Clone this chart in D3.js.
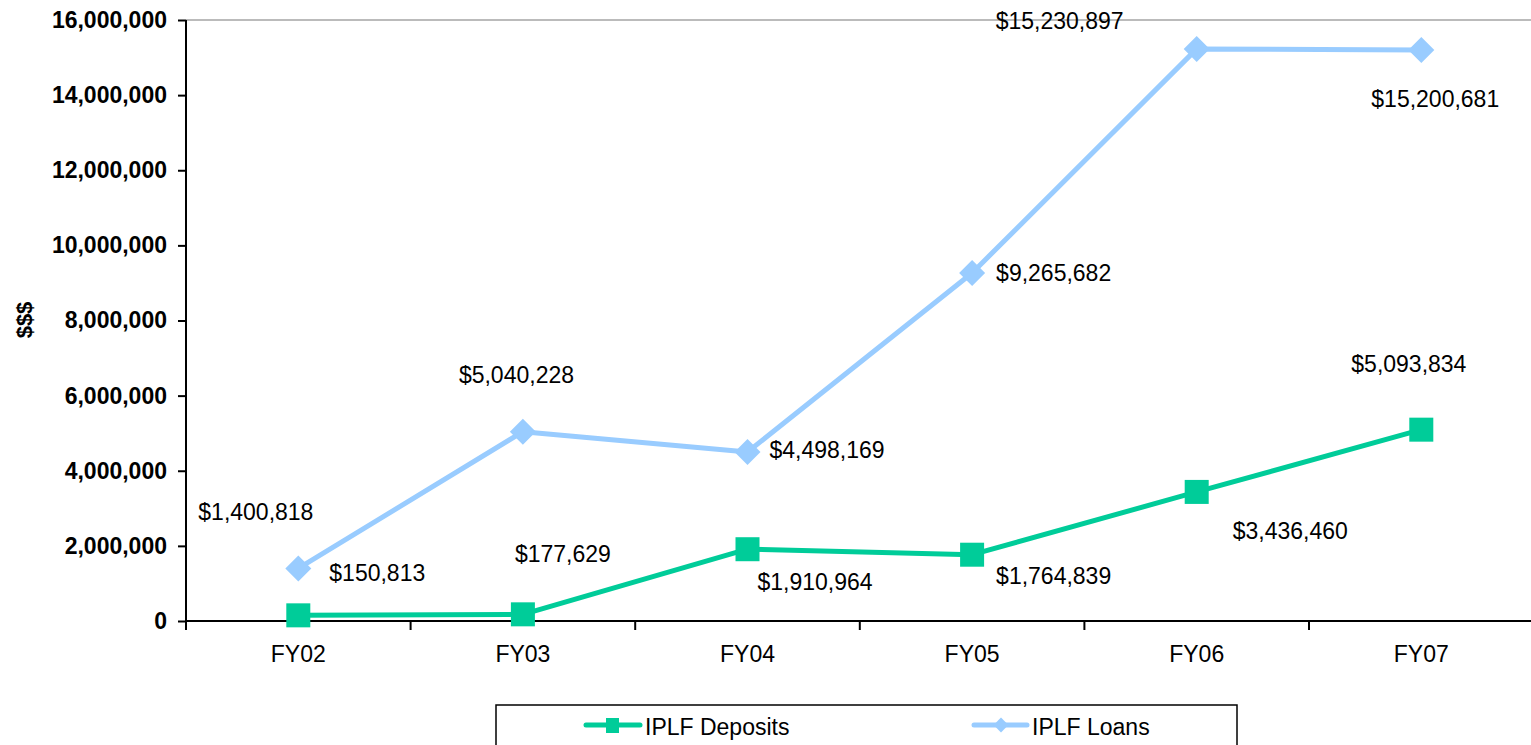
<!DOCTYPE html>
<html>
<head>
<meta charset="utf-8">
<script src="https://cdn.jsdelivr.net/npm/d3@7"></script>
<style>
  html, body { margin: 0; padding: 0; background: #fff; }
  svg { display: block; font-family: "Liberation Sans", Arial, sans-serif; }
  .ytick text { font-weight: bold; font-size: 23px; fill: #000; }
  .cat { font-size: 23px; fill: #000; }
  .val { font-size: 23px; fill: #000; }
  .legend text { font-size: 23px; fill: #000; }
</style>
</head>
<body>
<svg id="chart" width="1531" height="745"></svg>
<script>
// values
const categories = ["FY02", "FY03", "FY04", "FY05", "FY06", "FY07"];
const deposits = [150813, 177629, 1910964, 1764839, 3436460, 5093834];
const loans = [1400818, 5040228, 4498169, 9265682, 15230897, 15200681];
const yTicks = [0, 2000000, 4000000, 6000000, 8000000, 10000000, 12000000, 14000000, 16000000];

// where each data label sits relative to its marker (start x, baseline)
const depositLabelOffsets = [[31, -34], [-8, -52], [10, 41], [24, 29], [36, 47], [-70, -58]];
const loanLabelOffsets = [[-100, -48], [-64, -49], [22, 6], [24, 8], [-201, -20], [-50, 57]];

(function () {
  const depColor = "#00cc99";
  const loanColor = "#99ccff";

  const svg = d3.select("#chart");
  const plotLeft = 186, plotRight = 1533.6, plotTop = 20, plotBottom = 621;

  const x = d3.scaleBand().domain(categories).range([plotLeft, plotRight]).paddingInner(0).paddingOuter(0);
  const cx = c => x(c) + x.bandwidth() / 2;
  const y = d3.scaleLinear().domain([0, 16000000]).range([plotBottom, plotTop]);

  // plot area top border
  svg.append("line")
    .attr("x1", plotLeft).attr("x2", plotRight)
    .attr("y1", plotTop).attr("y2", plotTop)
    .attr("stroke", "#bbbbbb").attr("stroke-width", 2);

  // y axis
  const yAxis = svg.append("g")
    .attr("class", "ytick")
    .attr("transform", `translate(${plotLeft},0)`)
    .call(d3.axisLeft(y).tickValues(yTicks).tickSize(8).tickPadding(11).tickFormat(d3.format(",")));
  yAxis.select(".domain").remove();
  yAxis.selectAll("line").attr("stroke", "#000").attr("stroke-width", 2);
  yAxis.attr("font-family", null).attr("font-size", null);
  svg.append("line")
    .attr("x1", plotLeft).attr("x2", plotLeft).attr("y1", plotTop).attr("y2", plotBottom + 1)
    .attr("stroke", "#000").attr("stroke-width", 2);

  // x axis, ticks sit between the categories
  svg.append("line")
    .attr("x1", plotLeft).attr("x2", plotRight).attr("y1", plotBottom).attr("y2", plotBottom)
    .attr("stroke", "#000").attr("stroke-width", 2);
  svg.append("g").selectAll("line")
    .data(categories)
    .join("line")
    .attr("x1", d => x(d)).attr("x2", d => x(d))
    .attr("y1", plotBottom).attr("y2", plotBottom + 9)
    .attr("stroke", "#000").attr("stroke-width", 2);
  svg.append("g").selectAll("text")
    .data(categories)
    .join("text")
    .attr("class", "cat")
    .attr("x", d => cx(d))
    .attr("y", 662)
    .attr("text-anchor", "middle")
    .text(d => d);

  // y title
  svg.append("text")
    .attr("transform", "translate(24,320) rotate(-90)")
    .attr("text-anchor", "middle")
    .attr("dominant-baseline", "central")
    .attr("font-weight", "bold")
    .attr("font-size", 22)
    .text("$$$");

  const line = d3.line().x((d, i) => cx(categories[i])).y(d => y(d));
  const money = v => "$" + d3.format(",")(v);

  // loans series
  svg.append("path")
    .datum(loans)
    .attr("d", line)
    .attr("fill", "none")
    .attr("stroke", loanColor)
    .attr("stroke-width", 5)
    .attr("stroke-linejoin", "round");
  svg.append("g").selectAll("path")
    .data(loans)
    .join("path")
    .attr("d", d3.symbol(d3.symbolSquare, 338))
    .attr("transform", (d, i) => `translate(${cx(categories[i])},${y(d)}) rotate(45)`)
    .attr("fill", loanColor);

  // deposits series
  svg.append("path")
    .datum(deposits)
    .attr("d", line)
    .attr("fill", "none")
    .attr("stroke", depColor)
    .attr("stroke-width", 5)
    .attr("stroke-linejoin", "round");
  svg.append("g").selectAll("rect")
    .data(deposits)
    .join("rect")
    .attr("x", (d, i) => cx(categories[i]) - 12)
    .attr("y", d => y(d) - 12)
    .attr("width", 24).attr("height", 24)
    .attr("fill", depColor);

  // data labels
  svg.append("g").selectAll("text")
    .data(loans)
    .join("text")
    .attr("class", "val")
    .attr("x", (d, i) => cx(categories[i]) + loanLabelOffsets[i][0])
    .attr("y", (d, i) => y(d) + loanLabelOffsets[i][1])
    .text(money);
  svg.append("g").selectAll("text")
    .data(deposits)
    .join("text")
    .attr("class", "val")
    .attr("x", (d, i) => cx(categories[i]) + depositLabelOffsets[i][0])
    .attr("y", (d, i) => y(d) + depositLabelOffsets[i][1])
    .text(money);

  // legend
  const legend = svg.append("g").attr("class", "legend");
  legend.append("rect")
    .attr("x", 496).attr("y", 705).attr("width", 741).attr("height", 60)
    .attr("fill", "#fff").attr("stroke", "#000").attr("stroke-width", 1.5);

  legend.append("line")
    .attr("x1", 586).attr("x2", 640).attr("y1", 725).attr("y2", 725)
    .attr("stroke", depColor).attr("stroke-width", 5).attr("stroke-linecap", "round");
  legend.append("rect")
    .attr("x", 606).attr("y", 718).attr("width", 13).attr("height", 15)
    .attr("fill", depColor);
  legend.append("text").attr("x", 645).attr("y", 735).text("IPLF Deposits");

  legend.append("line")
    .attr("x1", 974).attr("x2", 1027).attr("y1", 725).attr("y2", 725)
    .attr("stroke", loanColor).attr("stroke-width", 5).attr("stroke-linecap", "round");
  legend.append("path")
    .attr("d", d3.symbol(d3.symbolSquare, 110))
    .attr("transform", "translate(1001,725) rotate(45)")
    .attr("fill", loanColor);
  legend.append("text").attr("x", 1032).attr("y", 735).text("IPLF Loans");
})();
</script>
</body>
</html>
